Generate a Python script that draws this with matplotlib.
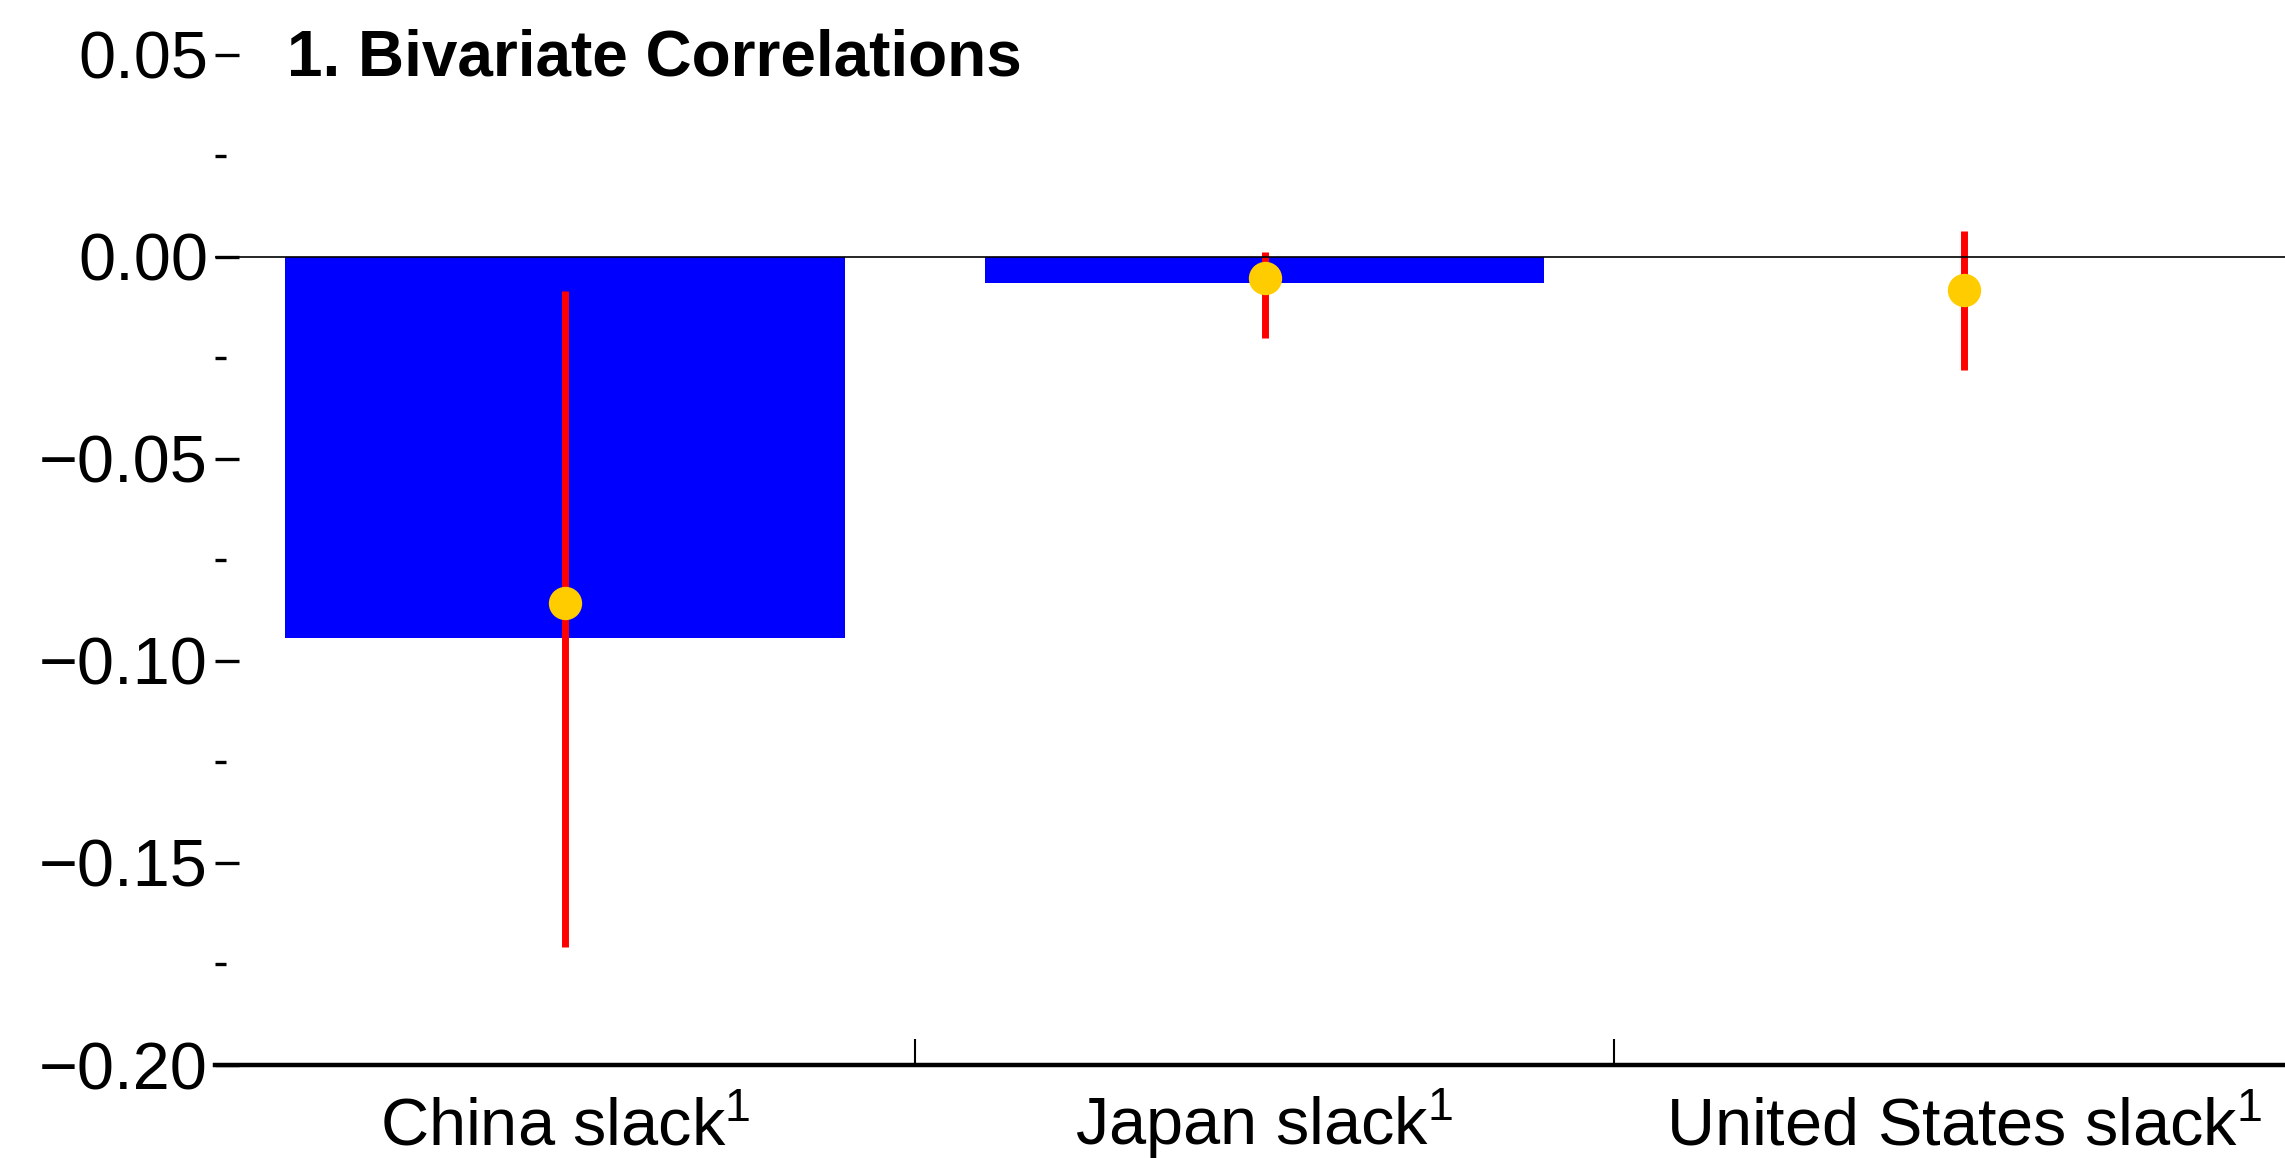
import numpy as np
import matplotlib

matplotlib.use('Agg')
import matplotlib.pyplot as plt
from matplotlib.ticker import FuncFormatter, MultipleLocator

categories = ['China slack', 'Japan slack', 'United States slack']
bar_values = [-0.0943, -0.0064, 0.0]
point_values = [-0.0857, -0.0052, -0.0082]
ci_low = [-0.1708, -0.0200, -0.0281]
ci_high = [-0.0085, 0.0013, 0.0065]
yticks = [-0.20, -0.15, -0.10, -0.05, 0.00, 0.05]

plt.rcParams['font.family'] = ['Liberation Sans', 'DejaVu Sans']
plt.rcParams['mathtext.fontset'] = 'custom'
plt.rcParams['mathtext.rm'] = 'Liberation Sans'
plt.rcParams['mathtext.it'] = 'Liberation Sans:italic'
plt.rcParams['mathtext.bf'] = 'Liberation Sans:bold'

W, H = 2285, 1158
fig = plt.figure(figsize=(W / 100, H / 100), dpi=100)
ax = fig.add_axes([215 / W, 1 - 1065 / H, 2099 / W, 1065 / H])

index = np.arange(len(categories))
ax.bar(index, bar_values, 0.8, color='#0000ff', zorder=2)
ax.vlines(index, ci_low, ci_high, color='#ff0000', lw=5, zorder=3)
ax.axhline(0, color='black', lw=1.2, zorder=4)
ax.plot(index, point_values, 'o', color='#ffcc00', ms=24, mec='none', zorder=5)

ax.set_xlim(-0.5, 2.5)
ax.set_ylim(-0.2, 0.0636)

for side in ['left', 'top', 'right']:
    ax.spines[side].set_visible(False)
ax.spines['bottom'].set_linewidth(3.2)


def fmt(v, pos):
    if abs(v) < 1e-9:
        v = 0.0
    return ('%.2f' % v).replace('-', '\u2212')


ax.set_yticks(yticks)
ax.yaxis.set_major_formatter(FuncFormatter(fmt))
ax.yaxis.set_minor_locator(MultipleLocator(0.025))
ax.tick_params(axis='y', which='major', direction='in', length=17, width=2.4,
               labelsize=48, pad=5)
ax.tick_params(axis='y', which='minor', direction='in', length=8, width=2.4)

# separators between categories; labels are placed on a common baseline
ax.set_xticks([0.5, 1.5])
ax.set_xticklabels([])
ax.tick_params(axis='x', which='major', direction='in', length=19, width=1.5)
for i, c in zip(index, categories):
    ax.text(i, -80 / 1065, c + '$^{1}$', transform=ax.get_xaxis_transform(),
            fontsize=48, ha='center', va='baseline')

fig.text(287 / W, 1 - 76 / H, '1. Bivariate Correlations', fontsize=46,
         fontweight='bold', ha='left', va='baseline')

fig.savefig('out.png', dpi=100)
